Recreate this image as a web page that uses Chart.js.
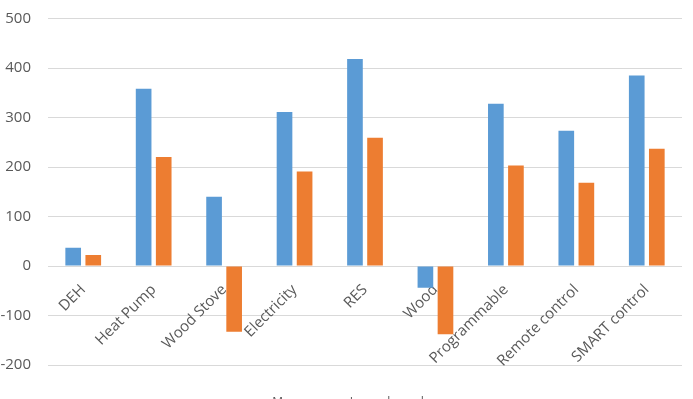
<!DOCTYPE html>
<html>
<head>
<meta charset="utf-8">
<script src="https://cdn.jsdelivr.net/npm/chart.js@4"></script>
<style>
  html, body { margin: 0; padding: 0; background: #fff; overflow: hidden; }
  #wrap { width: 693px; height: 419px; }
</style>
</head>
<body>
<div id="wrap"><canvas id="chart"></canvas></div>
<script>
// categories along the x axis
var categories = ["DEH", "Heat Pump", "Wood Stove", "Electricity", "RES", "Wood", "Programmable", "Remote control", "SMART control"];

// series values
var blueValues = [37, 358, 140, 311, 418, -44, 328, 273, 385];
var orangeValues = [22, 220, -133, 191, 259, -138, 203, 168, 237];

// series names (legend is cut off in the original)
var seriesNames = ["Mean", "Lower bound"];

// y axis ticks
var yTicks = [-200, -100, 0, 100, 200, 300, 400, 500];

var chartView = document.getElementById("chart");
var chart = new Chart(chartView, {
    type: 'bar',
    data: {
        labels: categories,
        datasets: [{
            label: seriesNames[0],
            backgroundColor: '#5B9BD5',
            data: blueValues
        }, {
            label: seriesNames[1],
            backgroundColor: '#ED7D31',
            data: orangeValues
        }]
    },
    options: {
        responsive: true,
        maintainAspectRatio: false,
        animation: false,
        categoryPercentage: 0.57,
        barPercentage: 0.78,
        layout: { padding: { top: 18.5, left: 0, right: 11, bottom: 0 } },
        plugins: {
            tooltip: { enabled: false },
            legend: {
                position: 'bottom',
                labels: {
                    boxWidth: 8,
                    boxHeight: 8,
                    padding: 32,
                    color: '#595959',
                    font: { family: 'Open Sans', size: 12 }
                }
            }
        },
        scales: {
            x: {
                position: { y: 0 },
                grid: { display: false },
                border: { display: false },
                // the axis sits on the zero line, keep its labels from pushing the plot area
                afterFit: function(axis) {
                    axis.paddingLeft = 0;
                    axis.paddingRight = 0;
                    axis.paddingTop = 0;
                    axis.paddingBottom = 0;
                },
                ticks: {
                    autoSkip: false,
                    maxRotation: 45,
                    minRotation: 45,
                    padding: 7,
                    color: '#595959',
                    font: { family: 'Open Sans', size: 15 }
                }
            },
            y: {
                min: yTicks[0],
                max: yTicks[yTicks.length - 1],
                afterBuildTicks: function(axis) {
                    axis.ticks = yTicks.map(function(v) { return { value: v }; });
                },
                // chart.js counts the tick padding twice, trim it back
                afterFit: function(axis) {
                    axis.width = 48;
                    axis.paddingTop = 0;
                    axis.paddingBottom = 0;
                },
                grid: { color: '#d9d9d9', drawTicks: false },
                border: { display: false },
                ticks: {
                    padding: 17,
                    color: '#595959',
                    font: { family: 'Open Sans', size: 15 }
                }
            }
        }
    }
});
</script>
</body>
</html>
